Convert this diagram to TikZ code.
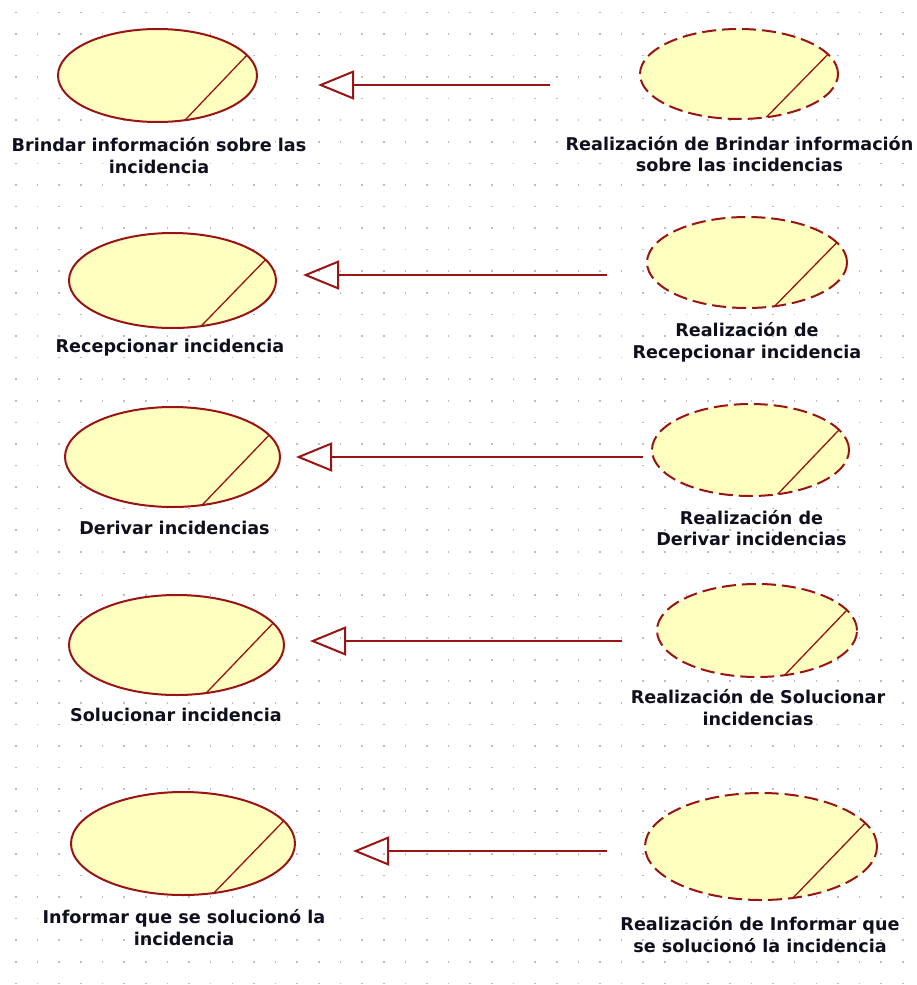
\documentclass[tikz,border=0pt]{standalone}
\usepackage{fontspec}
\setmainfont{DejaVu Sans}
\usetikzlibrary{shapes.geometric,arrows.meta,calc}
\definecolor{ucfill}{RGB}{255,255,192}
\definecolor{ucline}{RGB}{153,20,20}
\definecolor{gridc}{RGB}{190,190,190}
\definecolor{txt}{RGB}{15,15,30}
\tikzset{
  uc/.style={ellipse, draw=ucline, fill=ucfill, line width=2pt, inner sep=0pt, outer sep=0pt},
  realiz/.style={uc, dash pattern=on 14pt off 6pt},
  diag/.style={draw=ucline, line width=1.3pt},
  lbl/.style={font=\bfseries\fontsize{17.6}{21.5}\selectfont, text=txt, align=center, inner sep=0pt},
  gen/.style={draw=ucline, line width=2pt, -{Triangle[open, length=36pt, width=29pt]}},
  griddot/.style={fill=gridc},
}
\newcommand\ucnode[6]{%
  \node[#6, minimum width={2*#4pt}, minimum height={2*#5pt}] (#1) at (#2,#3) {};
  \draw[diag] ($(#1.center)+(26:#4pt and #5pt)$) -- ($(#1.center)+(-74:#4pt and #5pt)$);
}
\begin{document}
\begin{tikzpicture}[x=1pt,y=-1pt]
\useasboundingbox (0,0) rectangle (917,985);
\fill[white] (0,0) rectangle (917,985);
\foreach \i in {0,...,41} {
  \foreach \j in {0,...,45} {
    \fill[griddot] ({16+\i*21.63-0.8},{12.3+\j*21.58-0.8}) rectangle ++(1.6,1.6);
  }
}
% use cases
\ucnode{L1}{157.5}{75.5}{99.5}{46.5}{uc}
\ucnode{R1}{739}{74}{99}{45}{realiz}
\ucnode{L2}{172.5}{280.5}{103.5}{47.5}{uc}
\ucnode{R2}{747}{262.5}{100}{45.5}{realiz}
\ucnode{L3}{172.5}{457}{107.5}{50}{uc}
\ucnode{R3}{750.5}{450}{98.5}{46}{realiz}
\ucnode{L4}{176.5}{645}{107.5}{50}{uc}
\ucnode{R4}{757}{630.5}{100}{46.5}{realiz}
\ucnode{L5}{183}{843.5}{112}{51.5}{uc}
\ucnode{R5}{761}{846.5}{116}{53.5}{realiz}
% labels
\node[lbl] (T1) at (159,155.5) {Brindar información sobre las\\incidencia};
\node[lbl] (U1) at (739.5,154) {Realización de Brindar información\\sobre las incidencias};
\node[lbl] (T2) at (170,348) {Recepcionar incidencia};
\node[lbl] (U2) at (747,342.5) {Realización de\\Recepcionar incidencia};
\node[lbl] (T3) at (174.5,528) {Derivar incidencias};
\node[lbl] (U3) at (751.5,528) {Realización de\\Derivar incidencias};
\node[lbl] (T4) at (176,715) {Solucionar incidencia};
\node[lbl] (U4) at (758,707.5) {Realización de Solucionar\\incidencias};
\node[lbl] (T5) at (184,927.5) {Informar que se solucionó la\\incidencia};
\node[lbl] (U5) at (760,934.5) {Realización de Informar que\\se solucionó la incidencia};
% realization connectors
\coordinate (s1) at (550,85);  \coordinate (t1) at (318,85);
\coordinate (s2) at (607,275); \coordinate (t2) at (303,275);
\coordinate (s3) at (643,457); \coordinate (t3) at (296,457);
\coordinate (s4) at (622,641); \coordinate (t4) at (310,641);
\coordinate (s5) at (607,851); \coordinate (t5) at (353,851);
\draw[gen] (s1) -- (t1);
\draw[gen] (s2) -- (t2);
\draw[gen] (s3) -- (t3);
\draw[gen] (s4) -- (t4);
\draw[gen] (s5) -- (t5);
\end{tikzpicture}
\end{document}
